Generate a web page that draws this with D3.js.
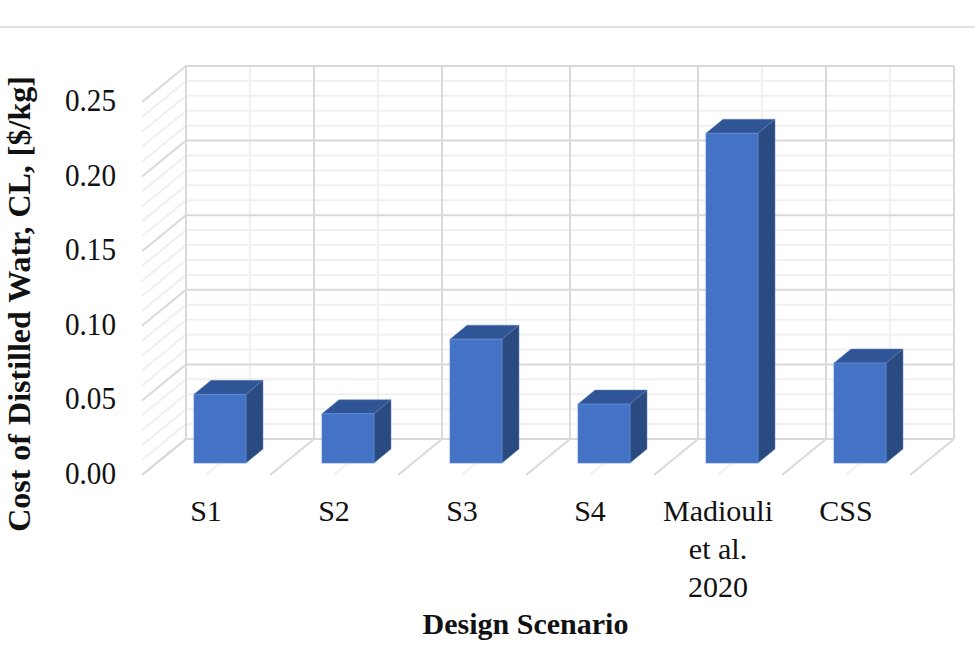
<!DOCTYPE html>
<html>
<head>
<meta charset="utf-8">
<script src="https://cdn.jsdelivr.net/npm/d3@7"></script>
<style>
  html, body { margin: 0; padding: 0; background: #fff; }
  text { font-family: "Liberation Serif", serif; fill: #111; }
</style>
</head>
<body>
<div id="chart"></div>
<script>
var scenarios = ['S1', 'S2', 'S3', 'S4', 'Madiouli', 'CSS']
var scenarioLines = [['S1'], ['S2'], ['S3'], ['S4'], ['Madiouli', 'et al.', '2020'], ['CSS']]
var costs = [0.046, 0.033, 0.083, 0.0395, 0.221, 0.067]
var majorTicks = [0, 0.05, 0.10, 0.15, 0.20, 0.25]
var minorTicks = [0.01, 0.02, 0.03, 0.04, 0.06, 0.07, 0.08, 0.09, 0.11, 0.12, 0.13, 0.14,
                  0.16, 0.17, 0.18, 0.19, 0.21, 0.22, 0.23, 0.24]

var width = 975, height = 649

// wall sits behind the floor, these offsets push things toward the viewer
var floorDx = -44, floorDy = 36
var barDx = 17, barDy = 14
var barGapY = 24

var svg = d3.select('#chart').append('svg')
  .attr('width', width).attr('height', height)
  .style('display', 'block')

var x = d3.scaleBand().domain(scenarios).range([186, 954])
var y = d3.scaleLinear().domain([0, 0.25]).range([439, 66])
var major = '#d9d9d9', minor = '#f0f0f0'

function addLine(parent, x1, y1, x2, y2) {
  return parent.append('line').attr('x1', x1).attr('y1', y1).attr('x2', x2).attr('y2', y2)
}

// rule across the top of the figure
addLine(svg, 0, 27, width, 27).attr('stroke', '#e2e2e2').attr('stroke-width', 2)

function wallLines(ticks, color, w) {
  var g = svg.append('g').attr('stroke', color).attr('stroke-width', w)
  ticks.forEach(function(t) {
    addLine(g, x.range()[0], y(t), x.range()[1], y(t))
    addLine(g, x.range()[0], y(t), x.range()[0] + floorDx, y(t) + floorDy)
  })
}

var boundaries = scenarios.map(function(d) { return x(d) }).concat([x.range()[1]])
var mids = scenarios.map(function(d) { return x(d) + x.bandwidth() / 2 })

function verticals(xs, color, w) {
  var g = svg.append('g').attr('stroke', color).attr('stroke-width', w)
  xs.forEach(function(v) {
    addLine(g, v, y(0), v, y(0.25))
    addLine(g, v, y(0), v + floorDx, y(0) + floorDy)
  })
}

wallLines(minorTicks, minor, 2)
verticals(mids, minor, 2)
wallLines(majorTicks, major, 2)
verticals(boundaries, major, 2)

// 3d columns
var barW = 52
var bars = svg.append('g').selectAll('g').data(costs).join('g')

function barLeft(i) { return x(scenarios[i]) + 8 }
function barTop(d) { return y(d) + barGapY }
var barBase = y(0) + barGapY

bars.append('path').attr('fill', '#2f5597').attr('stroke', '#5f82bd').attr('stroke-width', 0.5)
  .attr('d', function(d, i) {
    var l = barLeft(i), t = barTop(d)
    return d3.line()([[l, t], [l + barDx, t - barDy], [l + barW + barDx, t - barDy], [l + barW, t]]) + 'Z'
  })
bars.append('path').attr('fill', '#2a4a80').attr('stroke', '#5f82bd').attr('stroke-width', 0.5)
  .attr('d', function(d, i) {
    var r = barLeft(i) + barW, t = barTop(d)
    return d3.line()([[r, t], [r + barDx, t - barDy], [r + barDx, barBase - barDy], [r, barBase]]) + 'Z'
  })
bars.append('rect')
  .attr('x', function(d, i) { return barLeft(i) })
  .attr('y', barTop)
  .attr('width', barW)
  .attr('height', function(d) { return barBase - barTop(d) })
  .attr('fill', '#4472c4')
  .attr('stroke', '#5f8ad6').attr('stroke-width', 0.75)

// value labels along the front edge of the side wall, squeezed a little
svg.append('g').selectAll('text').data(majorTicks).join('text')
  .attr('x', 65)
  .attr('y', function(d) { return y(d) + floorDy + 9 })
  .attr('font-size', 31)
  .attr('textLength', 51)
  .attr('lengthAdjust', 'spacingAndGlyphs')
  .text(function(d) { return d3.format('.2f')(d) })

// category labels
var labels = svg.append('g').selectAll('text').data(scenarioLines).join('text')
  .attr('text-anchor', 'middle')
  .attr('font-size', 30)
labels.selectAll('tspan').data(function(d, i) {
    return d.map(function(s, j) { return { s: s, j: j, i: i } })
  }).join('tspan')
  .attr('x', function(d) { return x(scenarios[d.i]) + 20 })
  .attr('y', function(d) { return 521 + d.j * 38 })
  .text(function(d) { return d.s })

svg.append('text')
  .attr('x', 525.5).attr('y', 634)
  .attr('text-anchor', 'middle')
  .attr('font-size', 30).attr('font-weight', 'bold')
  .text('Design Scenario')

svg.append('text')
  .attr('transform', 'translate(30,304) rotate(-90)')
  .attr('text-anchor', 'middle')
  .attr('font-size', 32).attr('font-weight', 'bold')
  .attr('word-spacing', 1)
  .text('Cost of Distilled Watr, CL, [$/kg]')
</script>
</body>
</html>
